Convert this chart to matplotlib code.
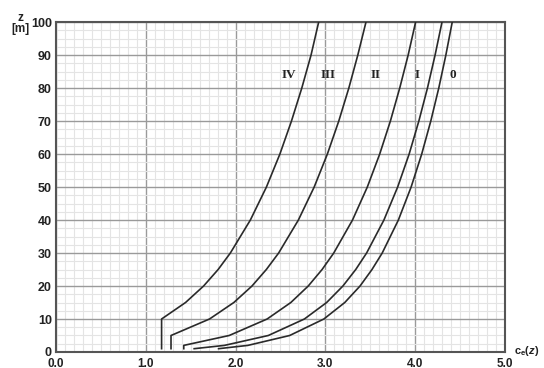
import matplotlib
matplotlib.use("Agg")
import matplotlib.pyplot as plt
from matplotlib.ticker import MultipleLocator, FormatStrFormatter

plt.rcParams["mathtext.fontset"] = "custom"
plt.rcParams["mathtext.rm"] = "Liberation Sans:bold"
plt.rcParams["mathtext.it"] = "Liberation Sans:italic:bold"

# exposure factor c_e(z), z in metres
z_0 = [1, 2, 5, 10, 15, 20, 25, 30, 40, 50, 60, 70, 80, 90, 100]
ce_0 = [1.811, 2.137, 2.603, 2.984, 3.217, 3.387, 3.520, 3.634, 3.814, 3.956, 4.074, 4.175, 4.264, 4.343, 4.414]

z_I = [1, 2, 5, 10, 15, 20, 25, 30, 40, 50, 60, 70, 80, 90, 100]
ce_I = [1.539, 1.876, 2.365, 2.767, 3.015, 3.196, 3.339, 3.460, 3.653, 3.806, 3.934, 4.042, 4.138, 4.223, 4.300]

z_II = [1, 2, 5, 10, 15, 20, 25, 30, 40, 50, 60, 70, 80, 90, 100]
ce_II = [1.423, 1.423, 1.929, 2.352, 2.616, 2.810, 2.964, 3.094, 3.303, 3.468, 3.606, 3.725, 3.829, 3.923, 4.006]

z_III = [1, 5, 10, 15, 20, 25, 30, 40, 50, 60, 70, 80, 90, 100]
ce_III = [1.281, 1.281, 1.710, 1.981, 2.183, 2.343, 2.480, 2.700, 2.876, 3.023, 3.150, 3.262, 3.362, 3.453]

z_IV = [1, 10, 15, 20, 25, 30, 40, 50, 60, 70, 80, 90, 100]
ce_IV = [1.176, 1.176, 1.443, 1.644, 1.806, 1.942, 2.165, 2.344, 2.494, 2.623, 2.738, 2.841, 2.926]

labels = ["IV", "III", "II", "I", "0"]
label_x = [2.60, 3.03, 3.56, 4.02, 4.42]
label_z = [84, 84, 84, 84, 84]

fig = plt.figure(figsize=(5.44, 3.68), dpi=100)
ax = fig.add_axes([0.103, 0.0435, 0.825, 0.8965])

for zz, cc in [(z_0, ce_0), (z_I, ce_I), (z_II, ce_II), (z_III, ce_III), (z_IV, ce_IV)]:
    ax.plot(cc, zz, color="#2a2a2a", lw=1.2, zorder=3)

for lab, lx, lz in zip(labels, label_x, label_z):
    ax.text(lx, lz, lab, family="Liberation Serif", fontweight="bold", fontsize=9.5,
            ha="center", va="center", color="#222222")

ax.set_xlim(0, 5)
ax.set_ylim(0, 100)
ax.xaxis.set_major_locator(MultipleLocator(1.0))
ax.xaxis.set_minor_locator(MultipleLocator(0.1))
ax.yaxis.set_major_locator(MultipleLocator(10))
ax.yaxis.set_minor_locator(MultipleLocator(2.5))
ax.xaxis.set_major_formatter(FormatStrFormatter("%.1f"))
ax.grid(which="major", color="#9a9a9a", lw=1.0)
ax.grid(which="minor", color="#e4e4e4", lw=0.8)
ax.set_axisbelow(True)
ax.tick_params(which="both", length=0)
ax.tick_params(axis="x", pad=4)
ax.tick_params(axis="y", pad=3)
for t in ax.get_xticklabels():
    t.set_family("Liberation Sans")
    t.set_fontweight("bold")
    t.set_fontsize(8.5)
    t.set_color("#222222")
for t in ax.get_yticklabels():
    t.set_family("Liberation Sans")
    t.set_fontweight("bold")
    t.set_fontsize(9)
    t.set_color("#222222")

for s in ax.spines.values():
    s.set_color("#555555")
    s.set_linewidth(1.5)

fig.text(0.037, 0.905, "z\n[m]", family="Liberation Sans", fontweight="bold", fontsize=8.5,
         ha="center", va="bottom", linespacing=0.85, color="#222222")
fig.text(0.945, 0.045, r"$\mathrm{c_e(}z\mathrm{)}$", fontsize=8,
         ha="left", va="center", color="#222222")

fig.savefig("out.png", dpi=100)
